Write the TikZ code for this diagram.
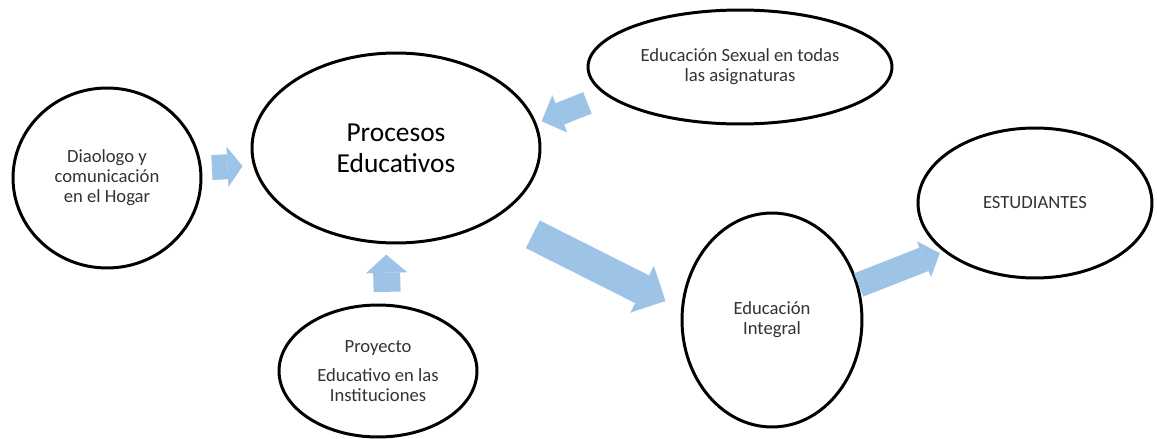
\documentclass[tikz,border=0pt]{standalone}
\usepackage{fontspec}
\setmainfont{Carlito}
\usetikzlibrary{shapes.geometric,arrows.meta}
\definecolor{azulflecha}{RGB}{157,195,230}
\begin{document}
\begin{tikzpicture}[x=0.02cm, y=-0.02cm,
        burbuja/.style={ellipse, draw=black, line width=1.7pt, fill=white, align=center, inner sep=0pt, text=black!80, font=\fontsize{10.6}{11.4}\selectfont},
        flecha/.style n args={3}{draw=azulflecha, line width=#1, -{Triangle[length=#3, width=#2, line width=0.01pt]}}
    ]
    \useasboundingbox (0,0) rectangle (1157,439);
    \node[burbuja, minimum width=3.76cm, minimum height=3.6cm] (hogar) at (107,178) {Diaologo y\\comunicación\\en el Hogar};
    \node[burbuja, minimum width=5.76cm, minimum height=3.8cm, text=black, font=\fontsize{15.6}{17.8}\selectfont] (procesos) at (396,148) {Procesos\\Educativos};
    \node[burbuja, minimum width=6.08cm, minimum height=2.28cm] (sexual) at (740,67) {Educación Sexual en todas\\las asignaturas};
    \node[burbuja, minimum width=3.6cm, minimum height=4.28cm] (integral) at (772,320) {Educación\\Integral};
    \node[burbuja, minimum width=4.68cm, minimum height=3cm] (estudiantes) at (1035,203) {ESTUDIANTES};
    \node[burbuja, minimum width=3.96cm, minimum height=2.64cm] (proyecto) at (378,371) {Proyecto\\[5pt]Educativo en las\\Instituciones};

    \draw[flecha={0.50cm}{0.80cm}{0.30cm}, shorten <=0.2cm, shorten >=0.21cm] (hogar.6.7) -- (procesos.187.7);
    \draw[flecha={0.54cm}{0.82cm}{0.36cm}, shorten <=0.24cm, shorten >=0.21cm] (proyecto.82.2) -- (procesos.264.6);
    \draw[flecha={0.46cm}{0.80cm}{0.39cm}, shorten <=0.4cm, shorten >=0.11cm] (sexual.192.6) -- (procesos.10.9);
    \draw[flecha={0.62cm}{1.04cm}{0.52cm}, shorten <=0.78cm, shorten >=0.35cm] (procesos.326.9) -- (integral.173.3);
    \draw[flecha={0.50cm}{0.76cm}{0.34cm}, shorten >=0.08cm] (integral.22.2) -- (estudiantes.208.2);
\end{tikzpicture}
\end{document}
